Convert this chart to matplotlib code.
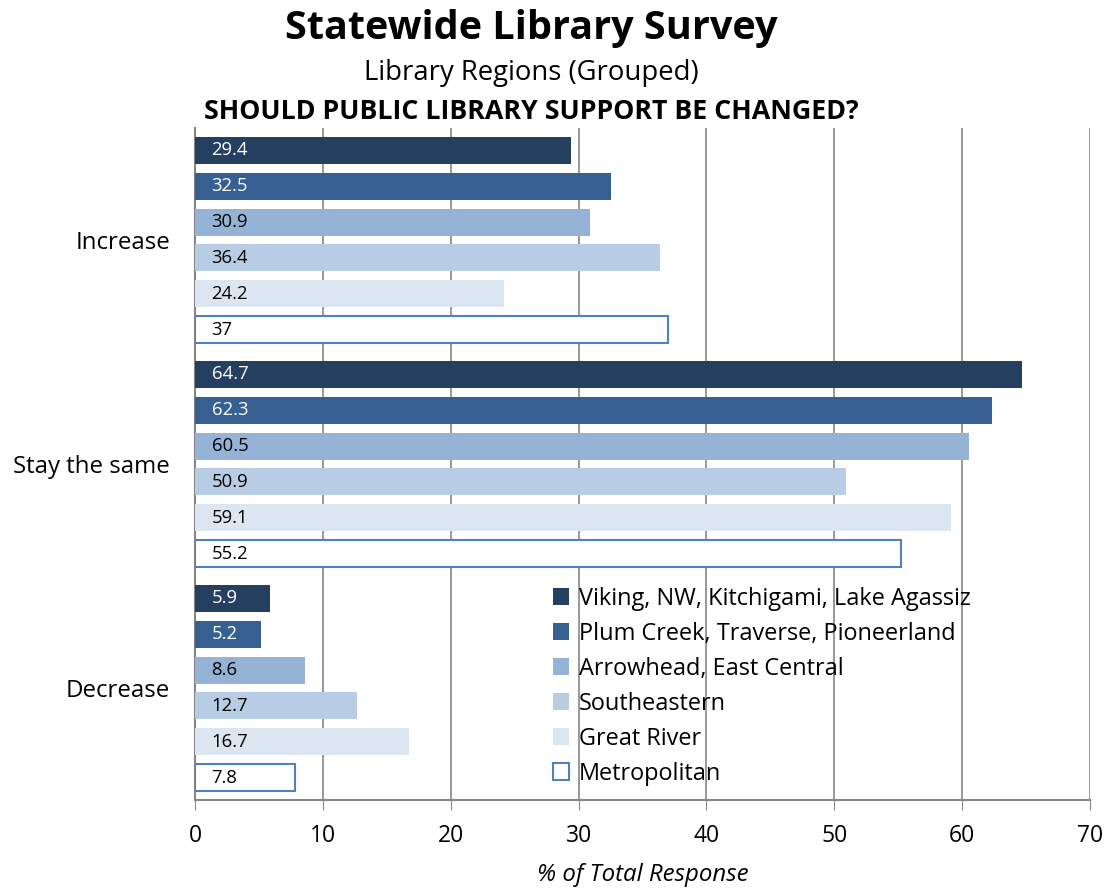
import matplotlib
matplotlib.use("Agg")
import matplotlib.pyplot as plt
import numpy as np

categories = ["Increase", "Stay the same", "Decrease"]
series_names = ["Viking, NW, Kitchigami, Lake Agassiz",
                "Plum Creek, Traverse, Pioneerland",
                "Arrowhead, East Central",
                "Southeastern",
                "Great River",
                "Metropolitan"]
viking = [29.4, 64.7, 5.9]
plum = [32.5, 62.3, 5.2]
arrowhead = [30.9, 60.5, 8.6]
southeastern = [36.4, 50.9, 12.7]
great_river = [24.2, 59.1, 16.7]
metropolitan = [37, 55.2, 7.8]
label_strings = [["29.4", "64.7", "5.9"], ["32.5", "62.3", "5.2"], ["30.9", "60.5", "8.6"],
                 ["36.4", "50.9", "12.7"], ["24.2", "59.1", "16.7"], ["37", "55.2", "7.8"]]
xticks = [0, 10, 20, 30, 40, 50, 60, 70]

series = [viking, plum, arrowhead, southeastern, great_river, metropolitan]
colors = ["#243F60", "#366092", "#95B3D7", "#B8CCE4", "#DCE6F1", "#FFFFFF"]
edges = ["#243F60", "#366092", "#95B3D7", "#B8CCE4", "#DCE6F1", "#4F81BD"]
text_colors = ["white", "white", "black", "black", "black", "black"]

plt.rcParams['font.family'] = ['Open Sans', 'DejaVu Sans']

fig = plt.figure(figsize=(11.12, 8.92), dpi=100)
ax = fig.add_axes([195/1112, 1 - 800/892, (1090-195)/1112, (800-128)/892])

step = 0.16
height = 0.12
y = np.arange(len(categories))
for i, (vals, c, e, tc) in enumerate(zip(series, colors, edges, text_colors)):
    pos = y + (i - 2.5) * step
    ax.barh(pos, vals, height=height, color=c, edgecolor=e, linewidth=1.5 if i == 5 else 0,
            label=series_names[i], zorder=3)
    for p, s in zip(pos, label_strings[i]):
        ax.text(1.3, p, s, va="center", ha="left", fontsize=13.3, color=tc, zorder=4)

ax.set_xlim(0, 70)
ax.set_ylim(2.5, -0.5)
ax.set_xticks(xticks)
ax.set_xticklabels([str(t) for t in xticks], fontsize=16.5)
ax.set_yticks(y)
ax.set_yticklabels(categories, fontsize=17.3)
ax.tick_params(axis="y", length=0, pad=18)
ax.tick_params(axis="x", direction="out", length=7, color="#868686", pad=10)
ax.grid(axis="x", color="#868686", linewidth=1.2, zorder=0)
ax.set_axisbelow(True)
for s in ["top", "right"]:
    ax.spines[s].set_visible(False)
for s in ["left", "bottom"]:
    ax.spines[s].set_color("#868686")
    ax.spines[s].set_linewidth(1.5)

ax.set_xlabel("% of Total Response", fontsize=17.3, style="italic", labelpad=11)

leg = fig.legend(loc="upper left", bbox_to_anchor=(548/1112, 1 - 582/892), frameon=False, fontsize=16.9,
                 handlelength=0.7, handleheight=0.7, handletextpad=0.4, labelspacing=0.47,
                 borderaxespad=0, borderpad=0.2)

fig.text(531/1112, 1 - 29/892, "Statewide Library Survey", ha="center", va="center",
         fontsize=28.5, fontweight="bold")
fig.text(531/1112, 1 - 73/892, "Library Regions (Grouped)", ha="center", va="center", fontsize=19.8)
fig.text(531/1112, 1 - 112/892, "SHOULD PUBLIC LIBRARY SUPPORT BE CHANGED?", ha="center", va="center",
         fontsize=19.3, fontweight="bold")

fig.savefig("out.png", dpi=100)
